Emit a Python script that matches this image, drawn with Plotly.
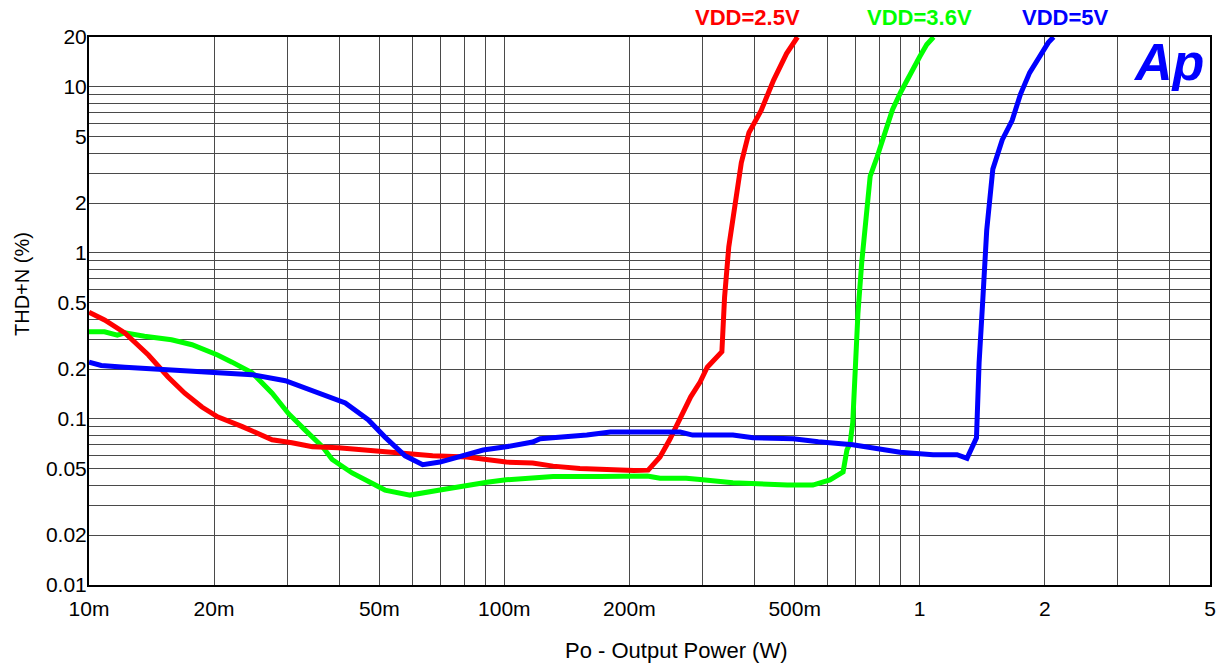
import plotly.graph_objects as go
import math

# ---- data ----
red_x = [0.010, 0.0109, 0.0122, 0.0139, 0.0155, 0.0170, 0.0187, 0.0204, 0.0234, 0.0255,
         0.0276, 0.0308, 0.0345, 0.0398, 0.0462, 0.0516, 0.0600, 0.0672, 0.0812, 0.0908,
         0.101, 0.117, 0.131, 0.152, 0.177, 0.205, 0.222, 0.237, 0.250, 0.265,
         0.281, 0.296, 0.308, 0.334, 0.339, 0.347, 0.362, 0.372, 0.388, 0.415,
         0.445, 0.478, 0.508]
red_y = [0.44, 0.395, 0.33, 0.243, 0.179, 0.143, 0.118, 0.103, 0.090, 0.082,
         0.075, 0.072, 0.068, 0.067, 0.065, 0.063, 0.062, 0.060, 0.059, 0.0566,
         0.055, 0.0543, 0.052, 0.0504, 0.0493, 0.049, 0.0492, 0.059, 0.075, 0.103,
         0.136, 0.167, 0.205, 0.254, 0.54, 1.09, 2.17, 3.5, 5.3, 7.2,
         11.0, 15.9, 20.0]

green_x = [0.010, 0.0109, 0.0117, 0.0122, 0.0136, 0.0158, 0.0177, 0.0204, 0.0221, 0.0247,
           0.0276, 0.0302, 0.0331, 0.0365, 0.0385, 0.043, 0.0516, 0.0593, 0.070, 0.0812,
           0.0908, 0.101, 0.117, 0.131, 0.170, 0.221, 0.237, 0.274, 0.296, 0.355,
           0.48, 0.553, 0.608, 0.654, 0.668, 0.680, 0.690, 0.700, 0.710, 0.725,
           0.740, 0.760, 0.790, 0.830, 0.860, 0.900, 0.950, 1.00, 1.04, 1.08]
green_y = [0.335, 0.335, 0.32, 0.33, 0.315, 0.30, 0.28, 0.243, 0.22, 0.19,
           0.143, 0.108, 0.086, 0.068, 0.057, 0.0473, 0.0373, 0.0348, 0.0373, 0.040,
           0.0416, 0.043, 0.044, 0.045, 0.045, 0.0454, 0.044, 0.044, 0.0432, 0.0413,
           0.040, 0.040, 0.043, 0.048, 0.065, 0.0715, 0.095, 0.22, 0.43, 0.87,
           1.6, 2.9, 3.8, 5.5, 7.3, 9.3, 12.2, 15.2, 18.0, 20.0]

blue_x = [0.010, 0.0107, 0.0122, 0.0142, 0.017, 0.0204, 0.0247, 0.0297, 0.0356, 0.0414,
          0.047, 0.0516, 0.0577, 0.0636, 0.070, 0.078, 0.0889, 0.101, 0.117, 0.122,
          0.1416, 0.158, 0.18, 0.265, 0.284, 0.355, 0.397, 0.496, 0.57, 0.69,
          0.897, 1.077, 1.23, 1.30, 1.37, 1.39, 1.42, 1.45, 1.50, 1.58,
          1.67, 1.75, 1.84, 1.94, 2.04, 2.10]
blue_y = [0.22, 0.21, 0.205, 0.20, 0.197, 0.19, 0.185, 0.17, 0.145, 0.125,
          0.099, 0.0778, 0.060, 0.053, 0.055, 0.059, 0.065, 0.068, 0.0727, 0.076,
          0.078, 0.080, 0.0835, 0.0835, 0.080, 0.080, 0.077, 0.076, 0.073, 0.070,
          0.063, 0.061, 0.061, 0.058, 0.077, 0.218, 0.54, 1.37, 3.2, 4.8,
          6.3, 9.1, 12.2, 15.2, 18.5, 20.0]

series_names = ["VDD=2.5V", "VDD=3.6V", "VDD=5V"]
series_colors = ["#ff0000", "#00ff00", "#0000ff"]
label_x = [0.386, 1.0, 2.24]   # horizontal position (W) of the series labels

x_tick_vals = [0.01, 0.02, 0.05, 0.1, 0.2, 0.5, 1, 2, 5]
x_tick_text = ["10m", "20m", "50m", "100m", "200m", "500m", "1", "2", "5"]
y_tick_vals = [0.01, 0.02, 0.05, 0.1, 0.2, 0.5, 1, 2, 5, 10, 20]
y_tick_text = ["0.01", "0.02", "0.05", "0.1", "0.2", "0.5", "1", "2", "5", "10", "20"]

x_title = "Po - Output Power (W)"
y_title = "THD+N (%)"

# grid lines at 1..9 x decade
def log_grid(lo, hi):
    vals = []
    for e in range(-3, 3):
        for m in range(1, 10):
            v = m * 10 ** e
            if lo * 0.999 <= v <= hi * 1.001:
                vals.append(round(v, 6))
    return vals

FONT = "Liberation Sans, Arial, sans-serif"

fig = go.Figure()
for xs, ys, name, col in [(green_x, green_y, series_names[1], series_colors[1]),
                          (red_x, red_y, series_names[0], series_colors[0]),
                          (blue_x, blue_y, series_names[2], series_colors[2])]:
    fig.add_trace(go.Scatter(x=xs, y=ys, mode="lines", name=name,
                             line=dict(color=col, width=5), showlegend=False))

grid_col = "#4a4a4a"
fig.update_xaxes(type="log", range=[-2, math.log10(5)],
                 tickmode="array", tickvals=x_tick_vals, ticktext=x_tick_text,
                 showgrid=True, gridcolor=grid_col, gridwidth=1,
                 minor=dict(tickmode="array", tickvals=log_grid(0.01, 5),
                            showgrid=True, gridcolor=grid_col, gridwidth=1, ticks=""),
                 showline=True, linecolor="black", linewidth=2, mirror=True,
                 ticks="", ticklabelstandoff=4,
                 tickfont=dict(family=FONT, size=21, color="black"),
                 zeroline=False)
fig.update_yaxes(type="log", range=[-2, math.log10(20)],
                 tickmode="array", tickvals=y_tick_vals, ticktext=y_tick_text,
                 showgrid=True, gridcolor=grid_col, gridwidth=1,
                 minor=dict(tickmode="array", tickvals=log_grid(0.01, 20),
                            showgrid=True, gridcolor=grid_col, gridwidth=1, ticks=""),
                 showline=True, linecolor="black", linewidth=2, mirror=True,
                 ticks="", ticklabelstandoff=-4,
                 tickfont=dict(family=FONT, size=21, color="black"),
                 zeroline=False)

ann = []
# series labels above the plot
for lx, name, col in zip(label_x, series_names, series_colors):
    ann.append(dict(x=math.log10(lx), y=1.0, xref="x", yref="paper", yanchor="middle",
                    yshift=20, text="<b>%s</b>" % name, showarrow=False,
                    font=dict(family=FONT, size=22, color=col)))
# axis titles
ann.append(dict(x=0.5, y=0, xref="paper", yref="paper", xshift=27, yshift=-65,
                text=x_title, showarrow=False, yanchor="middle",
                font=dict(family=FONT, size=22, color="black")))
ann.append(dict(x=0, y=0.5, xref="paper", yref="paper", xshift=-67, yshift=27,
                text=y_title, showarrow=False, textangle=-90, xanchor="center",
                font=dict(family=FONT, size=20, color="black")))
# Ap logo
ann.append(dict(x=1, y=1, xref="paper", yref="paper", xanchor="right", yanchor="top",
                xshift=-4, yshift=6, text="<b><i>Ap</i></b>", showarrow=False,
                font=dict(family=FONT, size=52, color="#0000ff")))

fig.update_layout(width=1220, height=668,
                  margin=dict(l=89, r=10, t=37, b=83, autoexpand=False),
                  paper_bgcolor="white", plot_bgcolor="white",
                  hovermode=False,
                  annotations=ann)

# remove the default page margin so the figure fills the window exactly
fig.write_html("out.html", config={"displayModeBar": False, "staticPlot": True},
               post_script="document.body.style.margin='0px';")
